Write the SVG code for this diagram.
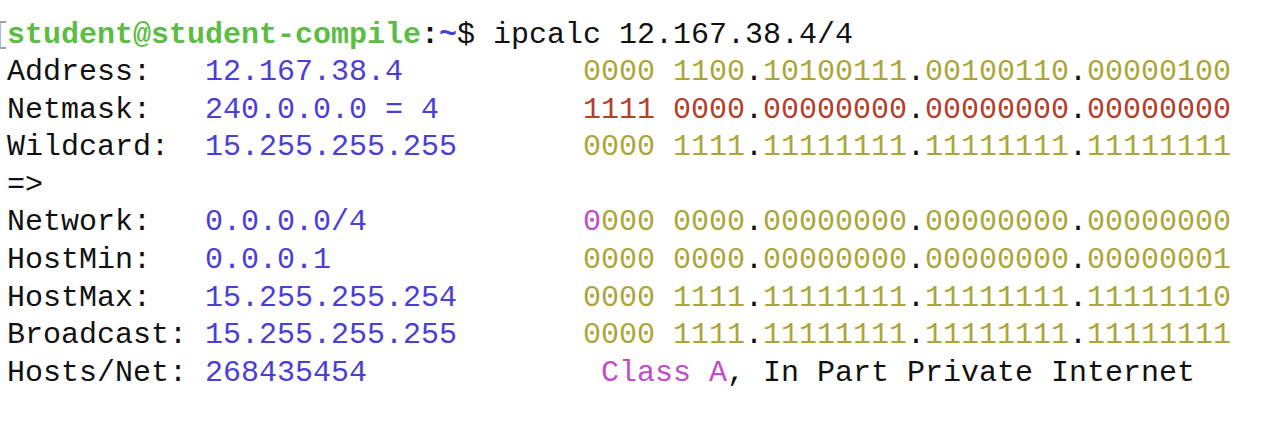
<svg xmlns="http://www.w3.org/2000/svg" width="1268" height="422" viewBox="0 0 1268 422">
<style>
text{font-family:"Liberation Mono","DejaVu Sans Mono",monospace;font-size:30px;fill:#111;white-space:pre}
.g{fill:#5cbd45;font-weight:bold}
.b{font-weight:bold}
.bl{fill:#4b3ed6}
.o{fill:#aba63a}
.r{fill:#b3402b}
.m{fill:#c24cca}
.gr{fill:#a0a0a0}
</style>
<rect width="1268" height="422" fill="#ffffff"/>
<g id="prompt">
<text x="-8" y="42.5" class="gr">[</text>
<text y="42.5" xml:space="preserve"><tspan x="7" class="g">student@student-compile</tspan><tspan x="421" class="b">:</tspan><tspan x="439" class="b bl">~</tspan><tspan x="457">$ ipcalc 12.167.38.4/4</tspan></text>
</g>
<g id="address">
<text x="7" y="80">Address:</text>
<text x="205" y="80" class="bl">12.167.38.4</text>
<text y="80" xml:space="preserve"><tspan x="583" class="o">0000 1100</tspan><tspan x="745">.</tspan><tspan x="763" class="o">10100111</tspan><tspan x="907">.</tspan><tspan x="925" class="o">00100110</tspan><tspan x="1069">.</tspan><tspan x="1087" class="o">00000100</tspan></text>
</g>
<g id="netmask">
<text x="7" y="117.6">Netmask:</text>
<text x="205" y="117.6" class="bl">240.0.0.0 = 4</text>
<text y="117.6" xml:space="preserve"><tspan x="583" class="r">1111 0000</tspan><tspan x="745">.</tspan><tspan x="763" class="r">00000000</tspan><tspan x="907">.</tspan><tspan x="925" class="r">00000000</tspan><tspan x="1069">.</tspan><tspan x="1087" class="r">00000000</tspan></text>
</g>
<g id="wildcard">
<text x="7" y="155.2">Wildcard:</text>
<text x="205" y="155.2" class="bl">15.255.255.255</text>
<text y="155.2" xml:space="preserve"><tspan x="583" class="o">0000 1111</tspan><tspan x="745">.</tspan><tspan x="763" class="o">11111111</tspan><tspan x="907">.</tspan><tspan x="925" class="o">11111111</tspan><tspan x="1069">.</tspan><tspan x="1087" class="o">11111111</tspan></text>
</g>
<g id="arrow">
<text x="7" y="192.8">=&gt;</text>
</g>
<g id="network">
<text x="7" y="230.4">Network:</text>
<text x="205" y="230.4" class="bl">0.0.0.0/4</text>
<text y="230.4" xml:space="preserve"><tspan x="583" class="m">0</tspan><tspan x="601" class="o">000 0000</tspan><tspan x="745">.</tspan><tspan x="763" class="o">00000000</tspan><tspan x="907">.</tspan><tspan x="925" class="o">00000000</tspan><tspan x="1069">.</tspan><tspan x="1087" class="o">00000000</tspan></text>
</g>
<g id="hostmin">
<text x="7" y="268">HostMin:</text>
<text x="205" y="268" class="bl">0.0.0.1</text>
<text y="268" xml:space="preserve"><tspan x="583" class="o">0000 0000</tspan><tspan x="745">.</tspan><tspan x="763" class="o">00000000</tspan><tspan x="907">.</tspan><tspan x="925" class="o">00000000</tspan><tspan x="1069">.</tspan><tspan x="1087" class="o">00000001</tspan></text>
</g>
<g id="hostmax">
<text x="7" y="305.6">HostMax:</text>
<text x="205" y="305.6" class="bl">15.255.255.254</text>
<text y="305.6" xml:space="preserve"><tspan x="583" class="o">0000 1111</tspan><tspan x="745">.</tspan><tspan x="763" class="o">11111111</tspan><tspan x="907">.</tspan><tspan x="925" class="o">11111111</tspan><tspan x="1069">.</tspan><tspan x="1087" class="o">11111110</tspan></text>
</g>
<g id="broadcast">
<text x="7" y="343.2">Broadcast:</text>
<text x="205" y="343.2" class="bl">15.255.255.255</text>
<text y="343.2" xml:space="preserve"><tspan x="583" class="o">0000 1111</tspan><tspan x="745">.</tspan><tspan x="763" class="o">11111111</tspan><tspan x="907">.</tspan><tspan x="925" class="o">11111111</tspan><tspan x="1069">.</tspan><tspan x="1087" class="o">11111111</tspan></text>
</g>
<g id="hostsnet">
<text x="7" y="380.8">Hosts/Net:</text>
<text x="205" y="380.8" class="bl">268435454</text>
<text y="380.8" xml:space="preserve"><tspan x="601" class="m">Class A</tspan><tspan x="727">, In Part Private Internet</tspan></text>
</g>
</svg>
